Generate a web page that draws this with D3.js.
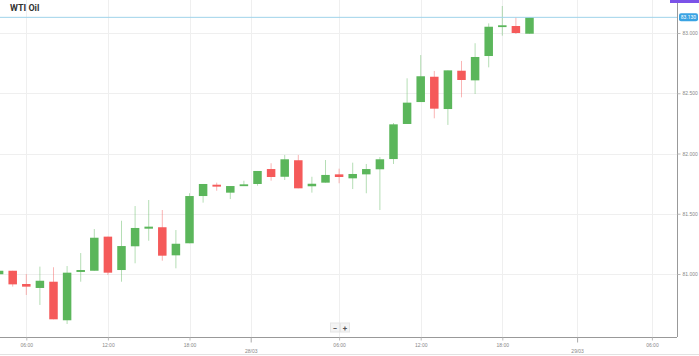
<!DOCTYPE html>
<html><head><meta charset="utf-8">
<script src="https://cdnjs.cloudflare.com/ajax/libs/d3/7.8.5/d3.min.js"></script>
<style>html,body{margin:0;padding:0;background:#fff;overflow:hidden}svg{display:block;font-family:Roboto,"Open Sans",sans-serif}</style>
</head><body>
<script>
const title = "WTI Oil";
const opens  = [80.998,81.027,80.917,80.884,80.936,80.616,81.017,81.027,81.310,81.033,81.230,81.376,81.388,81.155,81.255,81.647,81.741,81.675,81.730,81.747,81.871,81.807,81.944,81.728,81.758,81.827,81.794,81.827,81.869,81.954,82.245,82.427,82.637,82.369,82.687,82.607,82.809,83.052,83.058,82.994];
const highs  = [81.030,81.027,81.000,81.061,81.056,81.066,81.174,81.373,81.310,81.442,81.564,81.614,81.531,81.365,81.670,81.747,81.758,81.730,81.774,81.855,81.919,81.988,81.988,81.807,81.946,81.874,81.924,81.913,81.971,82.253,82.624,82.817,82.685,82.690,82.768,82.915,83.080,83.224,83.130,83.130];
const lows   = [80.990,80.895,80.826,80.743,80.624,80.585,80.936,81.027,80.992,80.936,81.089,81.276,81.110,81.047,81.255,81.592,81.691,81.622,81.730,81.733,81.774,81.780,81.711,81.675,81.758,81.753,81.705,81.670,81.531,81.913,82.245,82.427,82.292,82.237,82.466,82.494,82.715,82.978,82.992,82.994];
const closes = [81.027,80.914,80.895,80.944,80.624,81.011,81.033,81.301,81.011,81.232,81.382,81.393,81.152,81.251,81.647,81.747,81.725,81.730,81.744,81.855,81.805,81.952,81.711,81.749,81.822,81.805,81.830,81.871,81.952,82.242,82.422,82.641,82.372,82.690,82.610,82.801,83.052,83.064,83.000,83.130];
const yTicks = [81.0, 81.5, 82.0, 82.5, 83.0];
const timeTickPos = [2, 8, 14, 25, 31, 37, 48];
const timeTickLabels = ["06:00","12:00","18:00","06:00","12:00","18:00","06:00"];
const dateTickPos = [18.5, 42.5];
const dateTickLabels = ["28/03","29/03"];

const W = 699, H = 356;
const plotL = 0, plotR = 677, plotT = 0, plotB = 337;
const svg = d3.select("body").append("svg").attr("width", W).attr("height", H);

const x = d3.scaleLinear().domain([0, 49]).range([-0.9, -0.9 + 13.6 * 49]);
const y = d3.scaleLinear().domain([81, 83]).range([274, 33]);

const green = "#5bb65b", red = "#f55a5a";

// clip
svg.append("defs").append("clipPath").attr("id","clip")
  .append("rect").attr("x",plotL).attr("y",plotT).attr("width",plotR-plotL).attr("height",plotB-plotT);

// grid
const grid = svg.append("g");
grid.selectAll("line.h").data(yTicks).join("line")
  .attr("x1", plotL).attr("x2", plotR).attr("y1", d => Math.round(y(d))+0.5).attr("y2", d => Math.round(y(d))+0.5)
  .attr("stroke", "#efefef").attr("stroke-width", 1);
grid.selectAll("line.v").data(timeTickPos.concat(dateTickPos)).join("line")
  .attr("y1", plotT).attr("y2", plotB).attr("x1", d => Math.round(x(d))+0.5).attr("x2", d => Math.round(x(d))+0.5)
  .attr("stroke", "#efefef").attr("stroke-width", 1);

// candles
const idx = d3.range(closes.length);
const cg = svg.append("g").attr("clip-path","url(#clip)");
const bw = 8.5;
cg.selectAll("line.wick").data(idx).join("line")
  .attr("x1", i => x(i)).attr("x2", i => x(i))
  .attr("y1", i => y(highs[i])).attr("y2", i => y(lows[i]))
  .attr("stroke", i => closes[i] >= opens[i] ? green : red)
  .attr("stroke-opacity", 0.45).attr("stroke-width", 1);
cg.selectAll("rect.body").data(idx).join("rect")
  .attr("x", i => x(i) - bw/2).attr("width", bw)
  .attr("y", i => y(Math.max(opens[i], closes[i])))
  .attr("height", i => Math.max(1.8, Math.abs(y(opens[i]) - y(closes[i]))))
  .attr("fill", i => closes[i] >= opens[i] ? green : red);

// current price line
const last = closes[closes.length-1];
svg.append("line").attr("x1", 0).attr("x2", plotR).attr("y1", y(last)).attr("y2", y(last))
  .attr("stroke", "#9fd3ea").attr("stroke-width", 1);

// right axis
const yAxis = d3.axisRight(y).tickValues(yTicks).tickFormat(d3.format(".3f")).tickSize(3).tickPadding(2);
const ya = svg.append("g").attr("transform", `translate(${plotR+0.5},0)`).call(yAxis);
ya.select(".domain").attr("d", `M0,${plotT}V${plotB}`).attr("stroke", "#999");
ya.selectAll(".tick line").attr("stroke", "#bbb");
ya.selectAll(".tick text").attr("fill", "#888").style("font-size", "5px");

// price tag
const tag = svg.append("g").attr("transform", `translate(${plotR+1},${y(last)})`);
tag.append("rect").attr("x", 1).attr("y", -4).attr("width", 19).attr("height", 8).attr("rx", 2).attr("fill", "#3aa3e3");
tag.append("text").attr("x", 10.5).attr("y", 2).attr("text-anchor", "middle").attr("fill", "#fff")
  .style("font-size", "5px").text(d3.format(".3f")(last));

// bottom axis
const xa = svg.append("g").attr("transform", `translate(0,${plotB+0.5})`)
  .call(d3.axisBottom(x).tickValues(timeTickPos).tickFormat((d,i) => timeTickLabels[i]).tickSize(3).tickPadding(3));
xa.select(".domain").attr("d", `M${plotL},0H${plotR}`).attr("stroke", "#999");
xa.selectAll(".tick line").attr("stroke", "#bbb");
xa.selectAll(".tick text").attr("fill", "#888").style("font-size", "5px");
const xd = svg.append("g").attr("transform", `translate(0,${plotB+0.5})`)
  .call(d3.axisBottom(x).tickValues(dateTickPos).tickFormat((d,i) => dateTickLabels[i]).tickSize(5).tickPadding(7));
xd.select(".domain").remove();
xd.selectAll(".tick line").attr("stroke", "#aaa");
xd.selectAll(".tick text").attr("fill", "#888").style("font-size", "5px");

// bottom border
svg.append("line").attr("x1",0).attr("x2",W).attr("y1",354.5).attr("y2",354.5).attr("stroke","#e2e2e2");

// zoom buttons
const zb = svg.append("g");
[["−",335],["+",345]].forEach(([t,cx]) => {
  zb.append("rect").attr("x", cx-4.5).attr("y", 323).attr("width", 9).attr("height", 9).attr("fill", "#f4f4f4").attr("stroke","#e6e6e6");
  zb.append("text").attr("x", cx).attr("y", 330.5).attr("text-anchor","middle").attr("fill","#555")
    .style("font-size","8px").style("font-weight","bold").text(t);
});

// top-right purple bar
svg.append("rect").attr("x", 670).attr("y", 0).attr("width", 29).attr("height", 3).attr("fill", "#7b52e8");

// title
svg.append("text").attr("x", 10).attr("y", 11).attr("fill", "#333")
  .style("font-size", "9px").style("font-weight", "bold").text(title);
</script>
</body></html>
